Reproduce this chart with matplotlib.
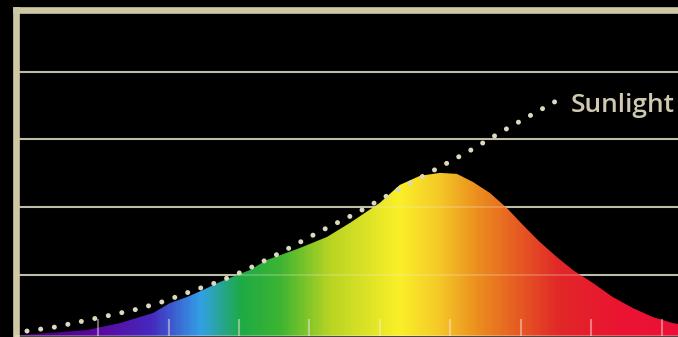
import numpy as np
import matplotlib
matplotlib.use("Agg")
import matplotlib.pyplot as plt
from matplotlib.colors import LinearSegmentedColormap

# wavelength (nm) vs relative intensity (grid units)
sun_nm = [349.6, 369.5, 389.3, 409.2, 428.3, 447.5, 466.6, 485.1, 503.5,
          530.5, 556.7, 583.6, 609.9, 636.1, 662.4, 688.6, 706.3, 724.1]
sun_val = [0.173, 0.232, 0.320, 0.409, 0.498, 0.616, 0.764, 0.897, 1.059,
           1.340, 1.635, 1.916, 2.226, 2.521, 2.817, 3.142, 3.349, 3.556]

led_nm = [341.8, 344.6, 392.2, 415.6, 439.0, 451.0, 463.1, 474.4, 486.5,
          498.5, 507.8, 519.8, 543.2, 562.4, 578.7, 589.3, 599.9, 614.1,
          628.3, 642.5, 654.6, 665.9, 678.0, 690.0, 701.4, 713.4, 725.5,
          736.8, 751.0, 765.2, 779.4, 793.6, 807.7, 819.8]
led_val = [0.099, 0.113, 0.188, 0.291, 0.439, 0.586, 0.675, 0.778, 0.897,
           1.000, 1.074, 1.222, 1.399, 1.561, 1.768, 1.916, 2.064, 2.329,
           2.462, 2.507, 2.492, 2.374, 2.211, 1.990, 1.739, 1.488, 1.266,
           1.074, 0.884, 0.675, 0.513, 0.380, 0.291, 0.247]

tick_nm = [400, 450, 500, 550, 600, 650, 700, 750, 800]
grid_vals = [1, 2, 3, 4]

# colour of the spectrum along the x axis
stop_nm = [341.8, 401.4, 436.8, 472.3, 500.7, 529.0, 564.5,
           614.1, 642.5, 670.9, 699.2, 727.6, 770.2, 820.0]
stop_rgb = [(70, 0, 110), (90, 10, 160), (70, 40, 190), (50, 160, 230),
            (30, 170, 70), (60, 180, 50), (185, 212, 35), (250, 240, 40),
            (245, 200, 40), (235, 140, 30), (230, 90, 35), (225, 40, 40),
            (235, 20, 50), (235, 15, 55)]

frame = "#cdc7a4"
xmin, xmax = 341.8, 820.0
ymin, ymax = 0.1, 4.91

fig = plt.figure(figsize=(6.78, 3.37), dpi=100, facecolor="black")
ax = fig.add_axes([16 / 678, 1 / 337, 674 / 678, 326 / 337])
ax.set_facecolor("black")

pos = [(n - xmin) / (xmax - xmin) for n in stop_nm]
cmap = LinearSegmentedColormap.from_list(
    "spec", list(zip(pos, [tuple(c / 255 for c in rgb) for rgb in stop_rgb])))

# grid below the fill
for g in grid_vals:
    ax.axhline(g, color="#b0ae9c", lw=1.5, zorder=0.5)

grad = np.linspace(0, 1, 600)[None, :]
im = ax.imshow(grad, extent=(xmin, xmax, ymin, ymax), aspect="auto",
               cmap=cmap, zorder=1, interpolation="bilinear")
poly = ax.fill_between(led_nm, led_val, 0, facecolor="none",
                       edgecolor="none")
im.set_clip_path(poly.get_paths()[0], transform=ax.transData)

# grid faintly over the fill
for g in grid_vals:
    ax.axhline(g, color="#f0ead0", lw=1.4, alpha=0.25, zorder=2)

ax.plot(sun_nm, sun_val, color="#ddd8c0", lw=3.6,
        linestyle=(0, (0.01, 2.75)), dash_capstyle="round", zorder=3)
ax.text(735.5, 3.5, "Sunlight", color="#cfc9b2", fontsize=19,
        fontfamily="Open Sans", fontweight="semibold", va="center",
        ha="left", zorder=3)

ax.set_xlim(xmin, xmax)
ax.set_ylim(ymin, ymax)
ax.set_xticks(tick_nm)
ax.set_yticks([])
ax.tick_params(axis="x", direction="in", length=12, width=1.5,
               color=(1, 0.92, 0.92, 0.45), labelbottom=False)
ax.set_axisbelow(False)

for side in ["left", "top"]:
    ax.spines[side].set_color(frame)
    ax.spines[side].set_linewidth(4.8)
ax.spines["bottom"].set_color((1, 0.95, 0.9, 0.3))
ax.spines["bottom"].set_linewidth(1.5)
ax.spines["right"].set_visible(False)

fig.savefig("out.png", dpi=100, facecolor="black")
